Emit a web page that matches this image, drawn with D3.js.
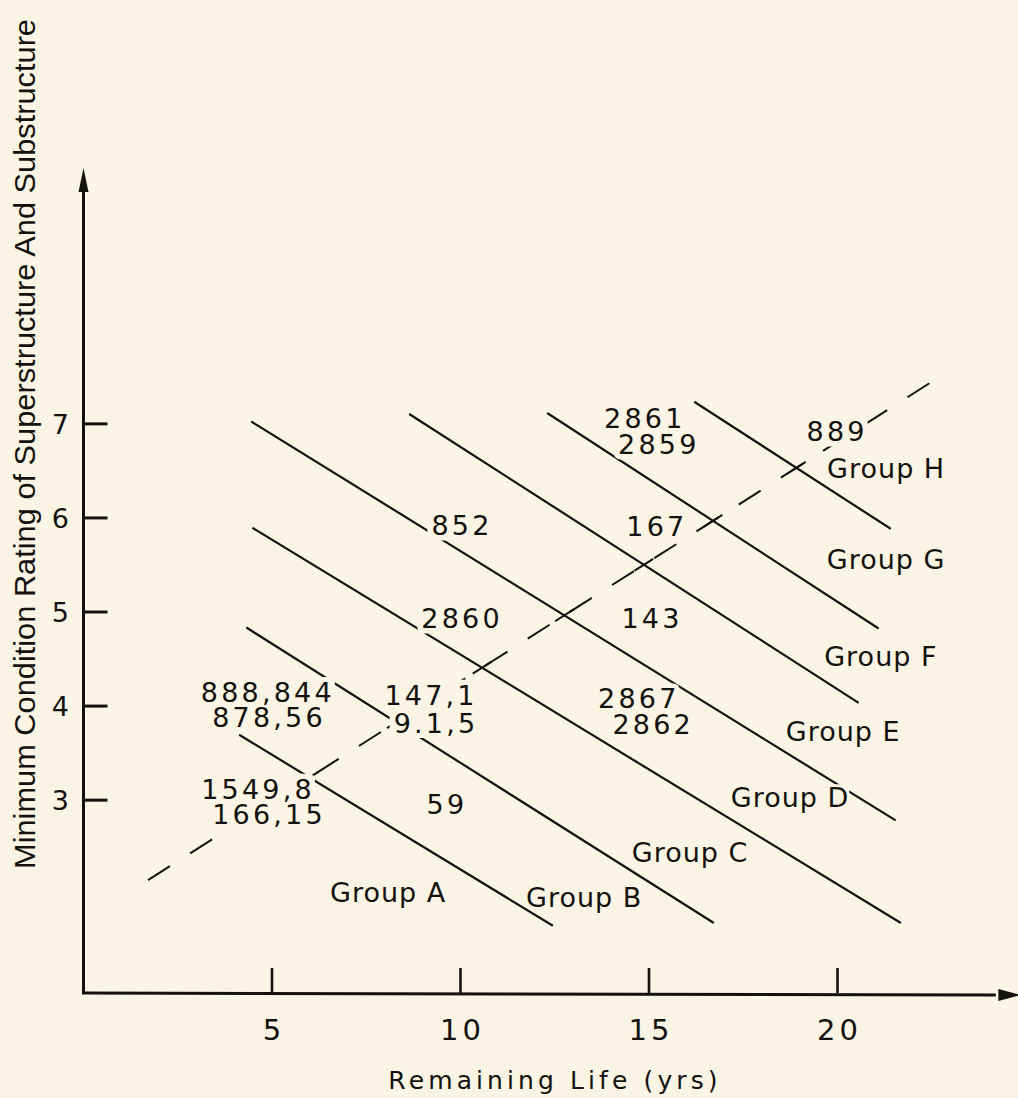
<!DOCTYPE html>
<html><head><meta charset="utf-8">
<script src="https://cdn.jsdelivr.net/npm/d3@7"></script>
<style>html,body{margin:0;padding:0;background:#f9f4e3;}svg{display:block;}</style>
</head><body><svg id="c" width="1018" height="1098"></svg>
<script>
// ---------- data ----------
const xTicks = [5, 10, 15, 20];
const yTicks = [3, 4, 5, 6, 7];
const xTitle = "Remaining Life  (yrs)";
const yTitle = "Minimum Condition Rating of  Superstructure And Substructure";

// group boundary lines (data coords: remaining life, rating)
const lineNames = ["A/B", "B/C", "C/D", "D/E", "E/F", "F/G", "G/H"];
const lineX1 = [4.15, 4.34, 4.50, 4.47, 8.66, 12.32, 16.22];
const lineY1 = [3.69, 4.83, 5.89, 7.02, 7.10, 7.11, 7.23];
const lineX2 = [12.43, 16.70, 21.66, 21.52, 20.54, 21.07, 21.39];
const lineY2 = [1.67, 1.70, 1.70, 2.79, 4.04, 4.83, 5.89];

// dashed trend line
const dashX = [1.71, 22.51];
const dashY = [2.15, 7.45];

// bridge id labels
const bridgeLabels = ["888,844", "878,56", "1549,8", "166,15", "147,1", "9.1,5", "59",
  "2867", "2862", "2860", "852", "167", "143", "2861", "2859", "889"];
const bridgeX = [4.89, 4.92, 4.63, 4.92, 9.22, 9.35, 9.64, 14.73, 15.11, 10.04, 10.04, 15.21, 15.08, 14.89, 15.26, 19.99];
const bridgeY = [4.15, 3.88, 3.12, 2.85, 4.12, 3.82, 2.96, 4.08, 3.81, 4.93, 5.92, 5.91, 4.93, 7.06, 6.78, 6.92];

// group labels
const groupLabels = ["Group A", "Group B", "Group C", "Group D", "Group E", "Group F", "Group G", "Group H"];
const groupX = [8.08, 13.28, 16.09, 18.74, 20.15, 21.15, 21.29, 21.29];
const groupY = [2.02, 1.97, 2.45, 3.03, 3.73, 4.53, 5.56, 6.53];

// ---------- drawing ----------
const W = 1018, H = 1098;
const BG = "#f9f4e3", INK = "#141210";
const svg = d3.select("#c");
svg.append("rect").attr("width", W).attr("height", H).attr("fill", BG);

const x = d3.scaleLinear().domain([0, 20]).range([83.5, 837.5]);
const y = d3.scaleLinear().domain([0.95, 9.72]).range([993, 168]);

const g = svg.append("g");

// group boundary lines
const lines = lineNames.map((n, i) => ({n, x1: lineX1[i], y1: lineY1[i], x2: lineX2[i], y2: lineY2[i]}));
g.selectAll("line.grp").data(lines).join("line").attr("class", "grp")
  .attr("x1", d => x(d.x1)).attr("y1", d => y(d.y1))
  .attr("x2", d => x(d.x2)).attr("y2", d => y(d.y2))
  .attr("stroke", INK).attr("stroke-width", 2.2).attr("stroke-linecap", "round");

// dashed line
g.append("line")
  .attr("x1", x(dashX[0])).attr("y1", y(dashY[0]))
  .attr("x2", x(dashX[1])).attr("y2", y(dashY[1]))
  .attr("stroke", INK).attr("stroke-width", 2).attr("stroke-dasharray", "26,24");

// cross marks where the dashed line crosses the group lines
const P1 = [x(dashX[0]), y(dashY[0])], P2 = [x(dashX[1]), y(dashY[1])];
const dlen = Math.hypot(P2[0] - P1[0], P2[1] - P1[1]);
const ux = (P2[0] - P1[0]) / dlen, uy = (P2[1] - P1[1]) / dlen;
function intersect(d) {
  const a = [x(d.x1), y(d.y1)], b = [x(d.x2), y(d.y2)];
  const r = [b[0] - a[0], b[1] - a[1]], s = [P2[0] - P1[0], P2[1] - P1[1]];
  const den = r[0] * s[1] - r[1] * s[0];
  const t = ((P1[0] - a[0]) * s[1] - (P1[1] - a[1]) * s[0]) / den;
  return [a[0] + t * r[0], a[1] + t * r[1]];
}
const crosses = lines.map(intersect);
g.selectAll("line.cross").data(crosses).join("line").attr("class", "cross")
  .attr("x1", d => d[0] - ux * 11).attr("y1", d => d[1] - uy * 11)
  .attr("x2", d => d[0] + ux * 11).attr("y2", d => d[1] + uy * 11)
  .attr("stroke", INK).attr("stroke-width", 2);

// axes
const axis = svg.append("g");
axis.append("line").attr("x1", x(0)).attr("y1", y(0.95)).attr("x2", x(0)).attr("y2", y(9.55))
  .attr("stroke", INK).attr("stroke-width", 3);
axis.append("path")
  .attr("d", `M${x(0)},${y(9.72)} L${x(0) - 5},${y(9.72) + 24} L${x(0) + 5},${y(9.72) + 24} Z`)
  .attr("fill", INK);
axis.append("line").attr("x1", x(0) - 1.5).attr("y1", y(0.95)).attr("x2", x(24.2)).attr("y2", y(0.95) + 2)
  .attr("stroke", INK).attr("stroke-width", 3);
axis.append("path")
  .attr("d", `M${x(24.85)},${y(0.95) + 2} L${x(24.85) - 22},${y(0.95) - 4} L${x(24.85) - 22},${y(0.95) + 8} Z`)
  .attr("fill", INK);

// y ticks (inward) and labels
axis.selectAll("line.yt").data(yTicks).join("line").attr("class", "yt")
  .attr("x1", x(0)).attr("x2", x(0) + 24).attr("y1", d => y(d)).attr("y2", d => y(d))
  .attr("stroke", INK).attr("stroke-width", 3);
axis.selectAll("text.yl").data(yTicks).join("text").attr("class", "yl")
  .attr("x", 69).attr("y", d => y(d)).attr("dy", "0.36em")
  .attr("text-anchor", "end").attr("font-family", "DejaVu Sans").attr("font-size", 27)
  .attr("fill", INK).text(d => d);

// x ticks (inward) and labels
axis.selectAll("line.xt").data(xTicks).join("line").attr("class", "xt")
  .attr("x1", d => x(d)).attr("x2", d => x(d)).attr("y1", y(0.95)).attr("y2", y(0.95) - 25)
  .attr("stroke", INK).attr("stroke-width", 2.6);
axis.selectAll("text.xl").data(xTicks).join("text").attr("class", "xl")
  .attr("x", d => x(d) + 2).attr("y", 1040)
  .attr("text-anchor", "middle").attr("font-family", "DejaVu Sans").attr("font-size", 29)
  .attr("letter-spacing", 4).attr("fill", INK).text(d => d);

// axis titles
svg.append("text").attr("x", 555).attr("y", 1089)
  .attr("text-anchor", "middle").attr("font-family", "DejaVu Sans").attr("font-size", 25)
  .attr("letter-spacing", 4.1).attr("fill", INK).text(xTitle);
svg.append("text")
  .attr("transform", "translate(35,444) rotate(-90)")
  .attr("text-anchor", "middle").attr("font-family", "Liberation Sans Narrow, Liberation Sans, sans-serif")
  .attr("font-size", 29).attr("textLength", 850).attr("lengthAdjust", "spacingAndGlyphs")
  .attr("fill", INK).text(yTitle);

// labels: background knock-outs (make the gaps in the lines), then the text
const bridges = bridgeLabels.map((t, i) => ({t, x: bridgeX[i], y: bridgeY[i], k: "br"}));
const groups = groupLabels.map((t, i) => ({t, x: groupX[i], y: groupY[i], k: "gr"}));
const allLabels = bridges.concat(groups);

const knock = svg.append("g");
const txt = svg.append("g").selectAll("text").data(allLabels).join("text")
  .attr("x", d => x(d.x)).attr("y", d => y(d.y)).attr("dy", "0.36em")
  .attr("text-anchor", "middle").attr("font-family", "DejaVu Sans")
  .attr("font-size", 27)
  .attr("letter-spacing", d => d.k === "br" ? 3.2 : 1)
  .attr("fill", INK)
  .text(d => d.t);

txt.each(function (d) {
  const b = this.getBBox();
  const cy = y(d.y);
  const top = d.k === "br" ? 15 : 13, bot = d.k === "br" ? 15 : 11;
  knock.append("rect")
    .attr("x", b.x - 4).attr("width", b.width + 4)
    .attr("y", cy - top).attr("height", top + bot)
    .attr("rx", 6)
    .attr("fill", BG);
});
</script></body></html>
